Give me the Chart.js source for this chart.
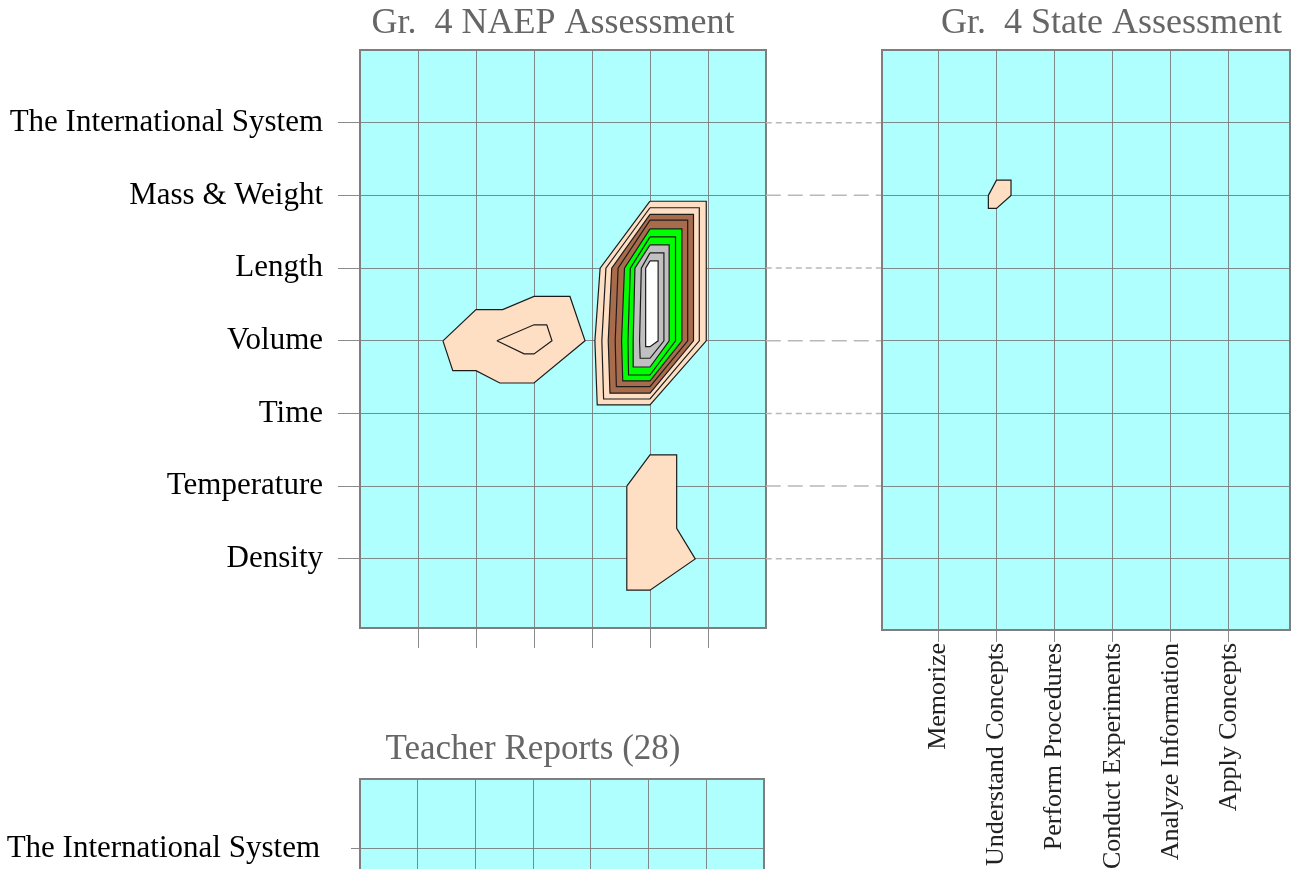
<!DOCTYPE html>
<html>
<head>
<meta charset="utf-8">
<title>Measurement content by cognitive demand</title>
<script src="https://cdn.jsdelivr.net/npm/chart.js@4.4.1/dist/chart.umd.min.js"></script>
<style>
  html, body { margin: 0; padding: 0; background: #fff; overflow: hidden; }
  #wrap { position: relative; width: 1302px; height: 869px; overflow: hidden; }
  canvas { position: absolute; }
</style>
</head>
<body>
<div id="wrap">
  <canvas id="naep" width="1106" height="700" style="left:0;top:0"></canvas>
  <canvas id="teacher" width="1066" height="700" style="left:0;top:700px"></canvas>
  <canvas id="state" width="691" height="869" style="left:766px;top:0"></canvas>
</div>
<script>
// rows, top to bottom (y position = 7 - index)
const measures = ['The International System', 'Mass & Weight', 'Length', 'Volume', 'Time', 'Temperature', 'Density'];
const rowPos = [7, 6, 5, 4, 3, 2, 1];
// columns, left to right
const processes = ['Memorize', 'Understand Concepts', 'Perform Procedures', 'Conduct Experiments', 'Analyze Information', 'Apply Concepts'];
const colPos = [1, 2, 3, 4, 5, 6];

// contour bands: two levels per colour
const levelColors = ['#FFDFC4', '#FFDFC4', '#A86C4C', '#A86C4C', '#00FF00', '#00FF00', '#C0C0C0', '#C0C0C0', '#FFFFFF'];

// NAEP: nested contours around Length / Volume x Analyze Information
const naepLengthRings = [
  [[5, 5.92], [5.97, 5.92], [5.97, 4.0], [5, 3.12], [4.09, 3.12], [4.05, 4.0], [4.14, 5.0]],
  [[5, 5.83], [5.85, 5.83], [5.85, 4.0], [5, 3.20], [4.20, 3.20], [4.17, 4.0], [4.24, 5.0]],
  [[5, 5.74], [5.75, 5.74], [5.75, 4.0], [5, 3.28], [4.31, 3.28], [4.28, 4.0], [4.34, 5.0]],
  [[5, 5.66], [5.65, 5.66], [5.65, 4.0], [5, 3.37], [4.42, 3.37], [4.40, 4.0], [4.45, 5.0]],
  [[5, 5.54], [5.55, 5.54], [5.55, 4.0], [5, 3.45], [4.53, 3.45], [4.51, 4.0], [4.56, 5.0]],
  [[5, 5.43], [5.44, 5.43], [5.44, 4.0], [5, 3.53], [4.63, 3.53], [4.62, 4.0], [4.66, 5.0]],
  [[5, 5.32], [5.33, 5.32], [5.33, 4.0], [5, 3.64], [4.72, 3.64], [4.71, 4.0], [4.74, 5.0]],
  [[5, 5.21], [5.24, 5.21], [5.24, 4.0], [5, 3.76], [4.83, 3.76], [4.82, 4.0], [4.85, 5.0]],
  [[5, 5.10], [5.14, 5.10], [5.14, 4.0], [5, 3.92], [4.93, 3.92], [4.92, 4.0], [4.93, 5.0]]
];
// NAEP: Volume x Understand/Perform/Conduct
const naepVolumeRings = [
  [[1.43, 4.0], [2.0, 4.43], [2.46, 4.43], [3.0, 4.61], [3.62, 4.61], [3.88, 4.0], [3.0, 3.42], [2.41, 3.42], [2.0, 3.59], [1.6, 3.59]],
  [[2.36, 4.0], [3.0, 4.22], [3.22, 4.22], [3.31, 4.0], [3.0, 3.82], [2.83, 3.82]]
];
// NAEP: Temperature / Density x Analyze Information
const naepTempRing = [[4.6, 2.0], [5.0, 2.43], [5.46, 2.43], [5.46, 1.42], [5.78, 1.0], [5.0, 0.57], [4.6, 0.57]];
// State: Mass & Weight x Understand Concepts
const stateMassRing = [[1.86, 6.0], [2.0, 6.21], [2.25, 6.21], [2.25, 6.0], [2.0, 5.82], [1.86, 5.82]];

const serif = "'Liberation Serif', 'Times New Roman', serif";
const gridColor = 'rgba(118,118,118,0.85)';

// cyan plot background + grey frame
const panelFrame = {
  id: 'panelFrame',
  beforeDraw(chart, args, opts) {
    const {ctx, chartArea: a} = chart;
    ctx.save();
    ctx.fillStyle = opts.fill;
    ctx.fillRect(a.left, a.top, a.width, a.height);
    ctx.restore();
  },
  afterDraw(chart, args, opts) {
    const {ctx, chartArea: a} = chart;
    ctx.save();
    ctx.strokeStyle = opts.stroke;
    ctx.lineWidth = opts.width;
    ctx.strokeRect(a.left, a.top, a.width, a.height);
    ctx.restore();
  },
  defaults: {fill: '#B0FFFF', stroke: '#7E7E7E', width: 2}
};
Chart.register(panelFrame);

function shape(points, color, order) {
  return {
    data: points.concat([points[0]]).map(([x, y]) => ({x, y})),
    backgroundColor: color,
    borderColor: '#1c1c1c',
    borderWidth: 1.2,
    borderJoinStyle: 'miter',
    fill: 'shape',
    pointRadius: 0,
    tension: 0,
    order: order
  };
}

function titleOpts(text, size, pad) {
  return {display: true, text: text, color: '#666', font: {family: serif, size: size, weight: 'normal'}, padding: pad};
}

function spacer(width) {
  return {
    type: 'linear', axis: 'y', position: 'right', display: true,
    ticks: {display: false}, grid: {display: false, drawTicks: false}, border: {display: false},
    afterFit: s => { s.width = width; }
  };
}

function colAxis(min, max, extra) {
  return Object.assign({
    type: 'linear', min: min, max: max, z: 1,
    afterBuildTicks: s => { s.ticks = colPos.map(v => ({value: v})); },
    grid: {color: gridColor, lineWidth: 1, tickLength: 20},
    border: {display: false},
    ticks: {display: false}
  }, extra);
}

function rowAxis(min, max, extra) {
  return Object.assign({
    type: 'linear', min: min, max: max, z: 1,
    afterBuildTicks: s => { s.ticks = rowPos.map(v => ({value: v})); },
    grid: {color: gridColor, lineWidth: 1, tickLength: 22},
    border: {display: false},
    ticks: {
      color: '#000', padding: 15, font: {family: serif, size: 31},
      callback: v => measures[7 - v]
    },
    afterFit: s => { s.width = 360; }
  }, extra);
}

const common = {
  responsive: false,
  animation: false,
  events: [],
  layout: {padding: 0}
};

// Gr. 4 NAEP panel
const naepSets = [];
naepLengthRings.forEach((r, i) => naepSets.push(shape(r, levelColors[i], 20 - i)));
naepSets.push(shape(naepVolumeRings[0], levelColors[0], 20));
naepSets.push(shape(naepVolumeRings[1], levelColors[1], 19));
naepSets.push(shape(naepTempRing, levelColors[0], 20));

new Chart(document.getElementById('naep'), {
  type: 'line',
  data: {datasets: naepSets},
  options: Object.assign({}, common, {
    plugins: {
      legend: {display: false},
      tooltip: {enabled: false},
      title: titleOpts('Gr.  4 NAEP Assessment', 36, {top: 2, bottom: 4.8})
    },
    scales: {
      x: colAxis(0, 7, {afterFit: s => { s.height = 72; }}),
      y: rowAxis(0.05, 8),
      pad: spacer(340)
    }
  })
});

// Gr. 4 State panel, with dashed row connectors coming in from the NAEP panel
const stateSets = [shape(stateMassRing, levelColors[0], 5)];
rowPos.forEach((r, i) => {
  stateSets.push({
    data: [{x: -1.97, y: r}, {x: 0.03, y: r}],
    borderColor: '#B8B8B8',
    borderWidth: 1.5,
    borderDash: i % 2 === 0 ? [6, 4] : [15, 7],
    pointRadius: 0,
    fill: false,
    clip: false,
    order: 1
  });
});

new Chart(document.getElementById('state'), {
  type: 'line',
  data: {datasets: stateSets},
  options: Object.assign({}, common, {
    plugins: {
      legend: {display: false},
      tooltip: {enabled: false},
      title: titleOpts('Gr.  4 State Assessment', 36, {top: 2, bottom: 4.8})
    },
    scales: {
      x: colAxis(0.03, 7.05, {
        grid: {color: gridColor, lineWidth: 1, tickLength: 12},
        ticks: {
          display: true, autoSkip: false, minRotation: 90, maxRotation: 90,
          color: '#222', padding: 1, font: {family: serif, size: 26},
          callback: v => processes[v - 1]
        },
        afterFit: s => { s.height = 239; }
      }),
      y: rowAxis(0.02, 8, {
        grid: {color: gridColor, lineWidth: 1, drawTicks: false},
        ticks: {display: false},
        afterFit: s => { s.width = 116; }
      }),
      pad: spacer(167)
    }
  })
});

// Teacher Reports panel
new Chart(document.getElementById('teacher'), {
  type: 'line',
  data: {datasets: []},
  options: Object.assign({}, common, {
    plugins: {
      legend: {display: false},
      tooltip: {enabled: false},
      title: titleOpts('Teacher Reports (28)', 35, {top: 29, bottom: 8})
    },
    scales: {
      x: colAxis(0, 7, {afterFit: s => { s.height = 50; }}),
      y: rowAxis(0, 7.97, {
        grid: {color: gridColor, lineWidth: 1, tickLength: 9},
        ticks: {
          color: '#000', padding: 31, font: {family: serif, size: 31},
          callback: v => measures[7 - v]
        }
      }),
      pad: spacer(302)
    }
  })
});
</script>
</body>
</html>
